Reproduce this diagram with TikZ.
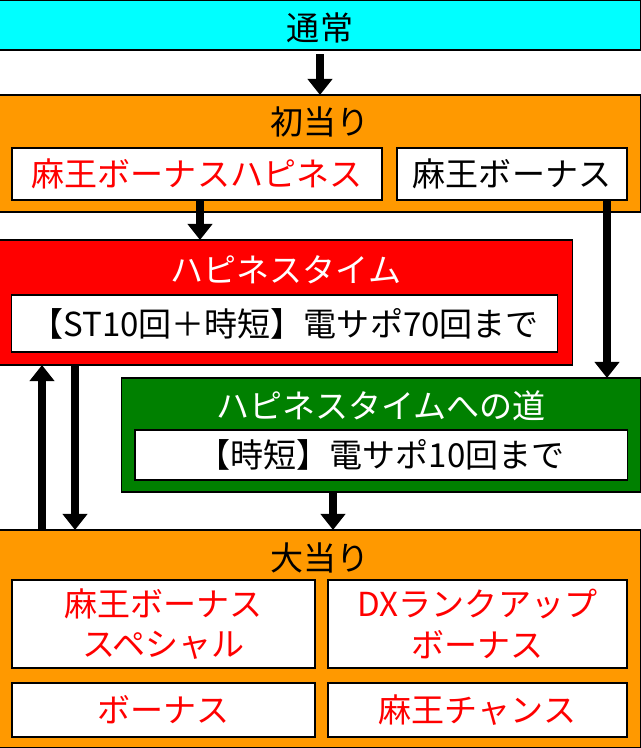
\documentclass[tikz,border=0pt]{standalone}
\usepackage{fontspec}
\setmainfont{Noto Sans CJK JP}
\usetikzlibrary{arrows.meta}
\definecolor{lamp}{RGB}{0,255,255}
\definecolor{flag}{RGB}{255,153,0}
\definecolor{road}{RGB}{0,128,0}
\definecolor{hot}{RGB}{255,0,0}

\tikzset{
  panel/.style={draw=black, line width=0.8pt, inner sep=0pt, outer sep=0pt},
  card/.style={panel, fill=white},
  word/.style={font=\fontsize{23.5}{29}\selectfont, align=center},
  flow/.style={-{Triangle[length=4mm,width=6mm]}, line width=2mm}
}

\begin{document}
\begin{tikzpicture}[x=0.025cm, y=-0.025cm]
%%%
\useasboundingbox (0,0) rectangle (640,748);

% panels
\node (top) [panel, fill=lamp, minimum width=16cm, minimum height=1.25cm] at (320,25) {};
\node (first) [panel, fill=flag, minimum width=16cm, minimum height=2.925cm] at (320,153.5) {};
\node (happy) [panel, fill=hot, minimum width=14.3cm, minimum height=3.125cm] at (286,302.5) {};
\node (road) [panel, fill=road, minimum width=12.95cm, minimum height=2.85cm] at (381,435) {};
\node (big) [panel, fill=flag, minimum width=16cm, minimum height=5.45cm] at (320,639) {};

% titles
\node (t0) [word] at (320,28) {通常};
\node (t1) [word] at (320,122) {初当り};
\node (t2) [word, text=white] at (286,270) {ハピネスタイム};
\node (t3) [word, text=white] at (381,406) {ハピネスタイムへの道};
\node (t4) [word] at (320,558) {大当り};

% cards
\node (bonusH) [card, word, text=hot, minimum width=9.25cm, minimum height=1.3cm] at (197,174) {麻王ボーナスハピネス};
\node (bonus) [card, word, minimum width=5.75cm, minimum height=1.3cm] at (512,174) {麻王ボーナス};
\node (st) [card, word, minimum width=13.625cm, minimum height=1.425cm] at (284.5,323.5) {【ST10回＋時短】電サポ70回まで};
\node (jitan) [card, word, minimum width=12.3cm, minimum height=1.25cm] at (381,455) {【時短】電サポ10回まで};
\node (sp) [card, word, text=hot, minimum width=7.575cm, minimum height=2.2cm] at (163.5,624) {麻王ボーナス\\スペシャル};
\node (dx) [card, word, text=hot, minimum width=7.475cm, minimum height=2.2cm] at (477.5,624) {DXランクアップ\\ボーナス};
\node (bn) [card, word, text=hot, minimum width=7.575cm, minimum height=1.35cm] at (163.5,710) {ボーナス};
\node (mc) [card, word, text=hot, minimum width=7.475cm, minimum height=1.35cm] at (477.5,710) {麻王チャンス};

% arrows
\coordinate (upFoot) at (42,530);
\coordinate (downTop) at (75,365);
\coordinate (sideTop) at (607,200);
\draw[flow] (top.south) ++(0,4) -- (first.north);
\draw[flow] (bonusH.south) ++(3,0) -- ([xshift=3*0.025cm]bonusH.south |- happy.north);
\draw[flow] (sideTop) -- (sideTop |- road.north);
\draw[flow] (upFoot) -- (upFoot |- happy.south);
\draw[flow] (downTop) -- (downTop |- big.north);
\draw[flow] ([xshift=-48*0.025cm]road.south) -- ([xshift=-48*0.025cm]road.south |- big.north);
%%%
\end{tikzpicture}
\end{document}
